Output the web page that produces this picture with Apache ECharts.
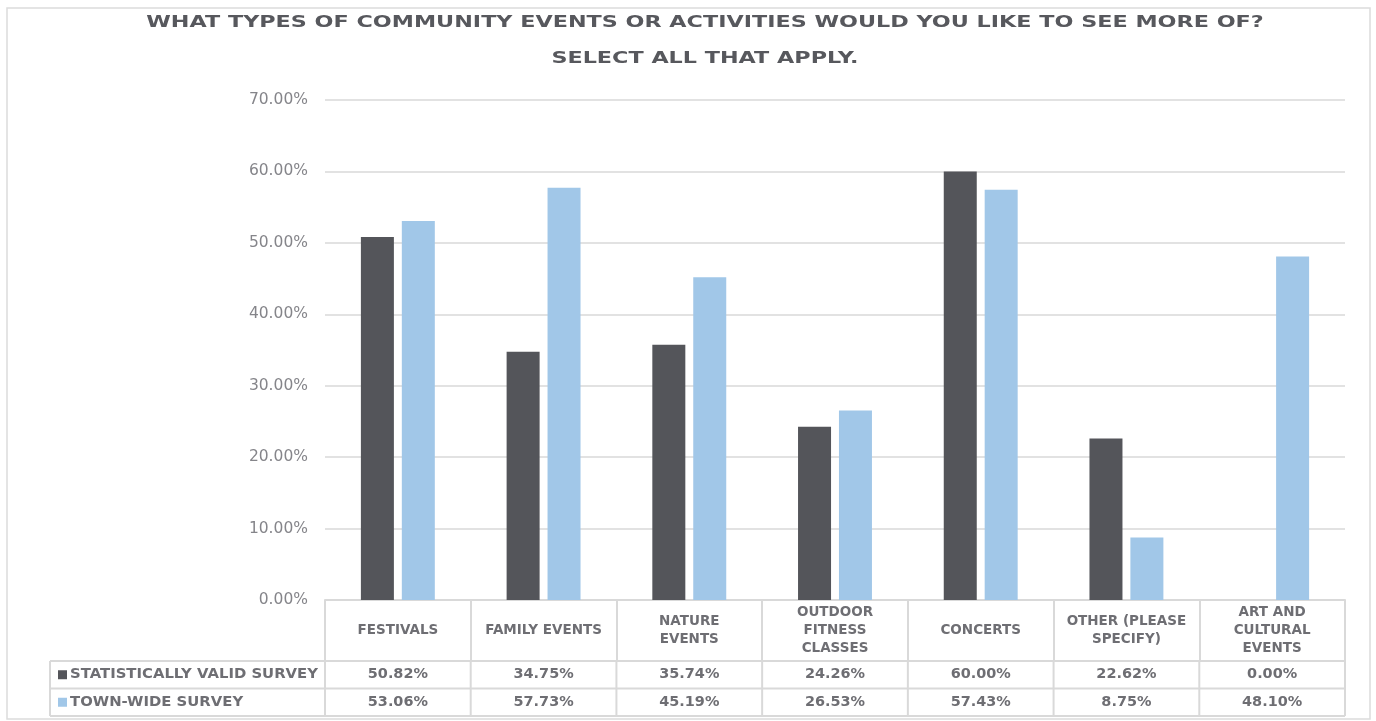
<!DOCTYPE html>
<html><head><meta charset="utf-8">
<script src="https://cdn.jsdelivr.net/npm/echarts@6/dist/echarts.min.js"></script>
<style>html,body{margin:0;padding:0;background:#fff}#chart{width:1376px;height:721px}</style>
</head><body><div id="chart"></div>
<script>
const titleLines = ['WHAT TYPES OF COMMUNITY EVENTS OR ACTIVITIES WOULD YOU LIKE TO SEE MORE OF?', 'SELECT ALL THAT APPLY.'];
const categories = ['FESTIVALS', 'FAMILY EVENTS', 'NATURE\nEVENTS', 'OUTDOOR\nFITNESS\nCLASSES', 'CONCERTS', 'OTHER (PLEASE\nSPECIFY)', 'ART AND\nCULTURAL\nEVENTS'];
const seriesNames = ['STATISTICALLY VALID SURVEY', 'TOWN-WIDE SURVEY'];
const validSurvey = [50.82, 34.75, 35.74, 24.26, 60.00, 22.62, 0.00];
const townSurvey = [53.06, 57.73, 45.19, 26.53, 57.43, 8.75, 48.10];
const yMin = 0, yMax = 70, yStep = 10;
const colors = ['#54555a', '#a1c7e8'];
const fmt = v => v.toFixed(2) + '%';

const gridColor = '#d9d9d9';
const tableText = '#6e6e73';
const tableFont = { fontFamily: 'DejaVu Sans', fontWeight: 'bold', fontSize: 13.5 };

const chart = echarts.init(document.getElementById('chart'), null, { renderer: 'canvas' });
const option = {
  animation: false,
  backgroundColor: '#ffffff',
  grid: { left: 325, right: 31, top: 100, bottom: 121, containLabel: false },
  xAxis: {
    type: 'category',
    data: categories,
    axisLine: { show: true, lineStyle: { color: gridColor, width: 2 } },
    axisTick: { show: true, length: 61, lineStyle: { color: gridColor, width: 2 } },
    axisLabel: Object.assign({ interval: 0, margin: 30.5, verticalAlign: 'middle', align: 'center', lineHeight: 18, color: tableText }, tableFont),
    splitLine: { show: false }
  },
  yAxis: {
    type: 'value', min: yMin, max: yMax, interval: yStep,
    axisLine: { show: false }, axisTick: { show: false },
    axisLabel: { formatter: fmt, margin: 17, color: '#85858a', fontSize: 15.5, fontFamily: 'DejaVu Sans' },
    splitLine: { lineStyle: { color: gridColor, width: 1.5 } }
  },
  series: [
    { name: seriesNames[0], type: 'bar', data: validSurvey, barWidth: 33, barGap: '24%', itemStyle: { color: colors[0] } },
    { name: seriesNames[1], type: 'bar', data: townSurvey, barWidth: 33, itemStyle: { color: colors[1] } }
  ]
};
chart.setOption(option);

// Build the data table beneath the axis from the axis geometry
const c0 = chart.convertToPixel({ xAxisIndex: 0 }, 0);
const c1 = chart.convertToPixel({ xAxisIndex: 0 }, 1);
const band = c1 - c0;
const tLeft = c0 - band / 2;
const tRight = tLeft + band * categories.length;
const yBase = chart.convertToPixel({ yAxisIndex: 0 }, yMin);
const headerH = 61, rowH = 27.5;
const rowTops = [yBase + headerH, yBase + headerH + rowH];
const tableBottom = yBase + headerH + 2 * rowH;
const legendLeft = 50;
const ls = { stroke: gridColor, lineWidth: 2 };
const els = [];
// outer frame
els.push({ type: 'rect', shape: { x: 7, y: 8, width: 1363, height: 711 }, style: { fill: 'none', stroke: '#dcdcdc', lineWidth: 1.5 }, silent: true });
// horizontal lines
[rowTops[0], rowTops[1], tableBottom].forEach(y => {
  els.push({ type: 'line', shape: { x1: legendLeft, y1: y, x2: tRight, y2: y }, style: ls, silent: true });
});
// vertical lines
els.push({ type: 'line', shape: { x1: legendLeft, y1: rowTops[0], x2: legendLeft, y2: tableBottom }, style: ls, silent: true });
for (let i = 0; i <= categories.length; i++) {
  const x = tLeft + i * band;
  els.push({ type: 'line', shape: { x1: x, y1: rowTops[0], x2: x, y2: tableBottom }, style: ls, silent: true });
}
// legend keys and values
const rows = [validSurvey, townSurvey];
rows.forEach((vals, r) => {
  const cy = rowTops[r] + rowH / 2;
  els.push({ type: 'rect', shape: { x: 58, y: cy - 4.5, width: 9, height: 9 }, style: { fill: colors[r] }, silent: true });
  els.push({ type: 'text', x: 70, y: cy, scaleX: 1.1, style: Object.assign({ text: seriesNames[r], fill: tableText, align: 'left', verticalAlign: 'middle' }, tableFont), silent: true });
  vals.forEach((v, i) => {
    els.push({ type: 'text', x: tLeft + (i + 0.5) * band, y: cy, scaleX: 1.07, style: Object.assign({ text: fmt(v), fill: tableText, align: 'center', verticalAlign: 'middle' }, tableFont), silent: true });
  });
});
// title
titleLines.forEach((t, k) => {
  els.push({ type: 'text', x: 705, y: 23 + k * 36, scaleX: 1.35, style: { text: t, fill: '#57585d', fontFamily: 'DejaVu Sans', fontWeight: 'bold', fontSize: 16.5, align: 'center', verticalAlign: 'middle' }, silent: true });
});
chart.setOption({ graphic: { elements: els } });
</script>
</body></html>
